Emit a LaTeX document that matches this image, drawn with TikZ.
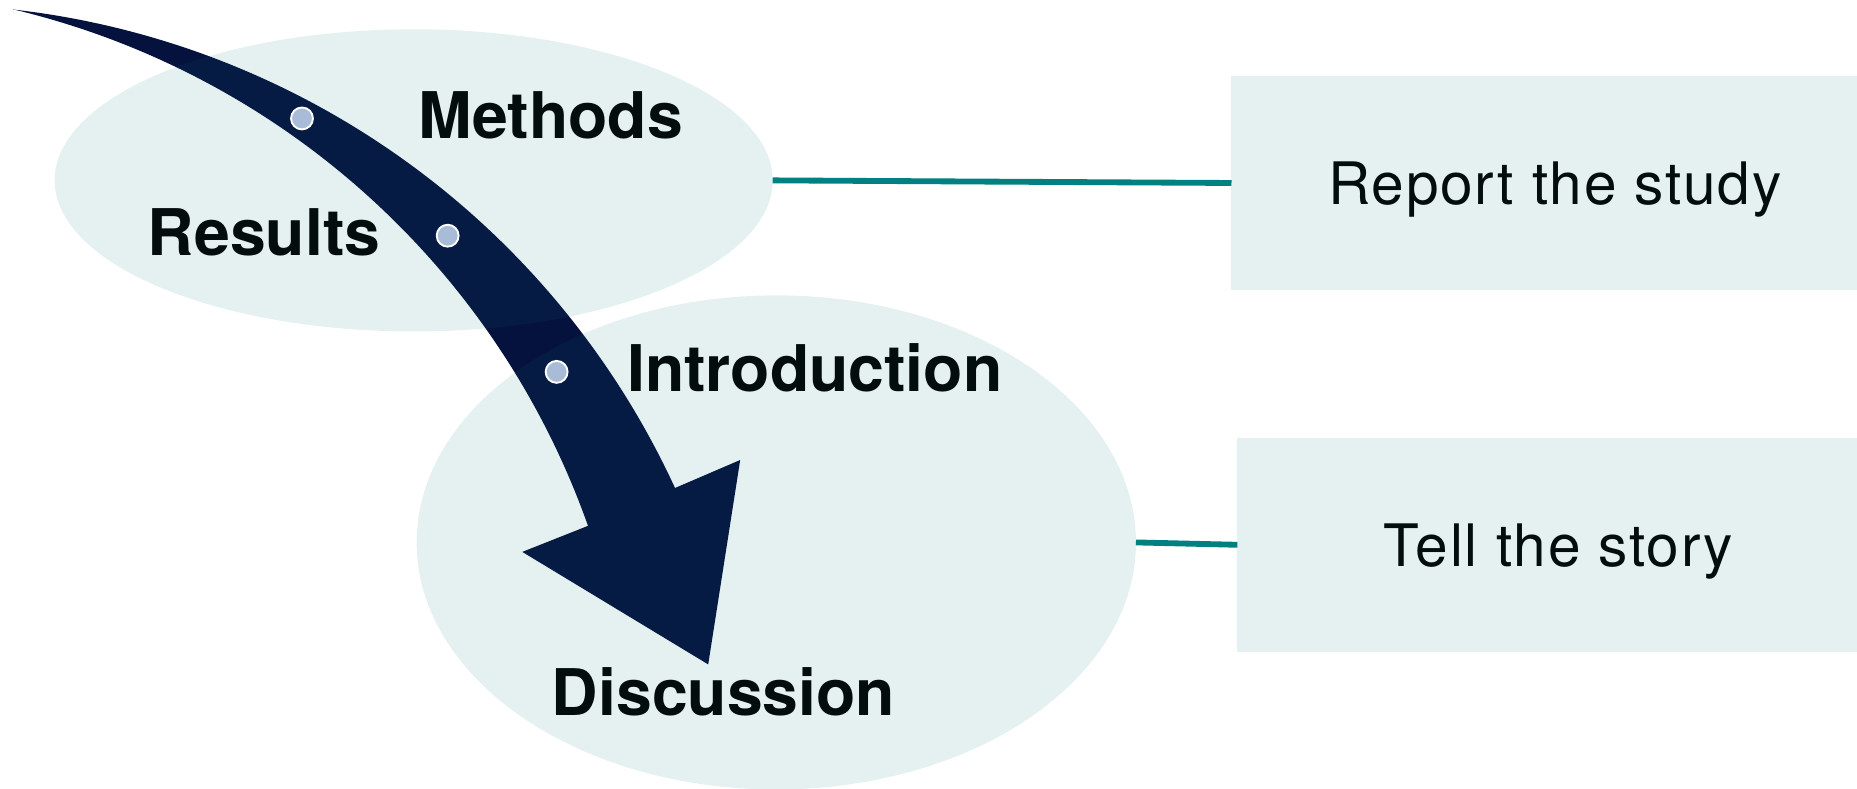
\documentclass[tikz,border=0pt]{standalone}
\usepackage{fontspec}
\setmainfont{TeX Gyre Heros}
\newfontfamily\boxFont[LetterSpace=3]{TeX Gyre Heros}
\usetikzlibrary{shapes.geometric}
\definecolor{arrowColor}{RGB}{6,18,62}
\definecolor{blobColor}{RGB}{0,115,115}
\definecolor{boxColor}{RGB}{229,241,241}
\definecolor{linkColor}{RGB}{0,128,128}
\definecolor{dotColor}{RGB}{168,188,216}
\definecolor{inkColor}{RGB}{3,13,13}
\tikzstyle{sketch} = [x = .01cm, y = -.01cm]
\tikzstyle{blobStyle} = [ellipse, fill=blobColor, fill opacity=0.1, inner sep=0, outer sep=0]
\tikzstyle{boxStyle} = [rectangle, fill=boxColor, inner sep=0, outer sep=0, text height=.36cm, text depth=0pt, minimum height=1.81cm, font=\boxFont\fontsize{14.06}{17}\selectfont, text=inkColor]
\tikzstyle{stepLabel} = [anchor=base, inner sep=0, font=\bfseries\fontsize{15.45}{18}\selectfont, text=inkColor]
\tikzstyle{dotStyle} = [circle, fill=dotColor, draw=white, line width=.45pt, minimum size=.185cm, inner sep=0]
\tikzstyle{linkLine} = [draw=linkColor, line width=1.4pt]

\begin{document}
\begin{tikzpicture}[sketch]
    \useasboundingbox (0,0) rectangle (1568,666);
    % the curved arrow, under the blobs
    \fill [arrowColor] (11,8) arc [start angle=-83.54, end angle=-24.74, radius=702.5]
      -- (625,388.4) -- (598,561) -- (441,466) -- (496.5,444)
      arc [start angle=-19.5, end angle=-76.6, radius=682.5] -- cycle;
    % blobs
    \node [blobStyle, minimum width=6.06cm, minimum height=2.55cm] (studyBlob) at (349.3,152.3) {};
    \node [blobStyle, minimum width=6.07cm, minimum height=4.17cm] (storyBlob) at (655.5,458) {};
    % dots on the arrow
    \node [dotStyle] (methodsDot) at (255,100) {};
    \node [dotStyle] (resultsDot) at (378,199) {};
    \node [dotStyle] (introDot) at (470,314) {};
    % section names
    \node [stepLabel] (methodsLabel) at (465,117) {Methods};
    \node [stepLabel] (resultsLabel) at (223,216) {Results};
    \node [stepLabel] (introLabel) at (688,330.5) {Introduction};
    \node [stepLabel] (discussionLabel) at (611,604.5) {Discussion};
    % boxes
    \node [boxStyle, minimum width=5.46cm] (studyBox) at (1313,154.5) {Report the study};
    \node [boxStyle, minimum width=5.42cm] (storyBox) at (1316,460) {Tell the story};
    \draw [linkLine] (studyBlob.east) -- (studyBox.west);
    \draw [linkLine] (storyBlob.east) -- (storyBox.west);
\end{tikzpicture}
\end{document}
